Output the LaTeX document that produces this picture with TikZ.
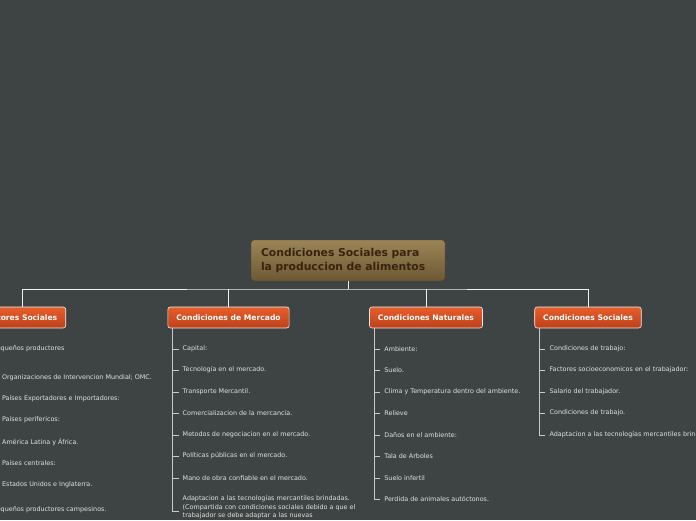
\documentclass[tikz,border=0pt]{standalone}
\usepackage{fontspec}
\setmainfont{DejaVu Sans}
\definecolor{fondo}{RGB}{62,68,68}
\definecolor{cafearriba}{RGB}{156,132,86}
\definecolor{cafeabajo}{RGB}{108,88,52}
\definecolor{cafetexto}{RGB}{56,36,14}
\definecolor{rojoarriba}{RGB}{230,94,44}
\definecolor{rojoabajo}{RGB}{190,64,24}
\definecolor{textoitem}{RGB}{226,226,226}
\definecolor{lineaitem}{RGB}{200,202,202}

\begin{document}
\begin{tikzpicture}[x=1pt, y=-1pt,
  titulo/.style={rounded corners=3pt, top color=cafearriba, bottom color=cafeabajo, draw=cafeabajo!70!black, line width=0.4pt,
    text=cafetexto, font=\bfseries\fontsize{10.8}{14}\selectfont, align=left, text width=174pt, inner xsep=10pt, minimum height=41pt},
  rama/.style={rounded corners=2.5pt, top color=rojoarriba, bottom color=rojoabajo, draw=white!85!gray, line width=0.6pt,
    text=white, font=\bfseries\fontsize{7.6}{9}\selectfont, inner xsep=8.5pt, minimum height=21pt},
  item/.style={anchor=west, inner sep=0pt, text=textoitem, font=\fontsize{6.4}{8.5}\selectfont, align=left},
  conector/.style={draw=white!94!black, line width=0.8pt},
  ramita/.style={draw=lineaitem, line width=0.8pt}]
  \useasboundingbox (0,0) rectangle (696,520);
  \clip (0,0) rectangle (696,520);
  \fill[fondo] (0,0) rectangle (696,520);

  % tema central
  \node[titulo] (tema) at (348,260.5) {Condiciones Sociales para\\la produccion de alimentos};

  % ramas principales
  \node[rama] (actores) at (22,317.5) {Actores Sociales};
  \node[rama] (mercado) at (228.5,317.5) {Condiciones de Mercado};
  \node[rama] (naturales) at (426,317.5) {Condiciones Naturales};
  \node[rama] (sociales) at (588,317.5) {Condiciones Sociales};

  \coordinate (barra) at (348,289);
  \draw[conector] (tema.south) -- (barra);
  \draw[conector] (actores.north) |- (barra) -| (sociales.north);
  \draw[conector] (mercado.north) -- (mercado.north |- barra);
  \draw[conector] (naturales.north) -- (naturales.north |- barra);

  % columnas: linea a 5pt del borde, texto a 15pt
  \foreach \r in {actores, mercado, naturales, sociales}{
    \path (\r.south west) ++(5,0) coordinate (\r-linea) ++(10,0) coordinate (\r-texto);
  }

  % actores sociales
  \node[item] (a1) at (actores-texto |- 0,349) {Pequeños productores};
  \node[item] (a8) at (actores-texto |- 0,510) {Pequeños productores campesinos.};
  \draw[ramita] (actores-linea) |- ([xshift=-4pt]a1.west);
  \draw[ramita] (actores-linea) |- ([xshift=-4pt]a8.west);
  \path (a1.south west) ++(3,0) coordinate (a1-linea) ++(6,0) coordinate (a1-texto);
  \foreach \n/\y/\t in {2/378/Organizaciones de Intervencion Mundial; OMC.,
                        3/399/Países Exportadores e Importadores:,
                        4/420/Países perifericos:,
                        5/442/América Latina y África.,
                        6/463/Países centrales:,
                        7/485/Estados Unidos e Inglaterra.}{
    \node[item] (a\n) at (a1-texto |- 0,\y) {\t};
    \draw[ramita] (a1-linea) |- ([xshift=-3pt]a\n.west);
  }

  % condiciones de mercado
  \foreach \n/\y/\t in {1/349/Capital:,
                        2/370/Tecnología en el mercado.,
                        3/392/Transporte Mercantil.,
                        4/413/Comercializacion de la mercancía.,
                        5/435/Metodos de negociacion en el mercado.,
                        6/456/Políticas públicas en el mercado.,
                        7/478/Mano de obra confiable en el mercado.}{
    \node[item] (m\n) at (mercado-texto |- 0,\y) {\t};
    \draw[ramita] (mercado-linea) |- ([xshift=-4pt]m\n.west);
  }
  \node[item, anchor=north west] (m8) at (mercado-texto |- 0,495.5) {Adaptacion a las tecnologías mercantiles brindadas.\\(Compartida con condiciones sociales debido a que el\\trabajador se debe adaptar a las nuevas};
  \draw[ramita] (mercado-linea) |- ([xshift=-4pt, yshift=-4pt]m8.west);

  % condiciones naturales
  \foreach \n/\y/\t in {1/349/Ambiente:,
                        2/370/Suelo.,
                        3/392/Clima y Temperatura dentro del ambiente.,
                        4/413/Relieve,
                        5/435/Daños en el ambiente:,
                        6/456/Tala de Arboles,
                        7/478/Suelo infertil,
                        8/499/Perdida de animales autóctonos.}{
    \node[item] (n\n) at (naturales-texto |- 0,\y) {\t};
    \draw[ramita] (naturales-linea) |- ([xshift=-4pt]n\n.west);
  }

  % condiciones sociales
  \foreach \n/\y/\t in {1/349/Condiciones de trabajo:,
                        2/370/Factores socioeconomicos en el trabajador:,
                        3/392/Salario del trabajador.,
                        4/413/Condiciones de trabajo.,
                        5/435/Adaptacion a las tecnologías mercantiles brindadas.}{
    \node[item] (s\n) at (sociales-texto |- 0,\y) {\t};
    \draw[ramita] (sociales-linea) |- ([xshift=-4pt]s\n.west);
  }
\end{tikzpicture}
\end{document}
